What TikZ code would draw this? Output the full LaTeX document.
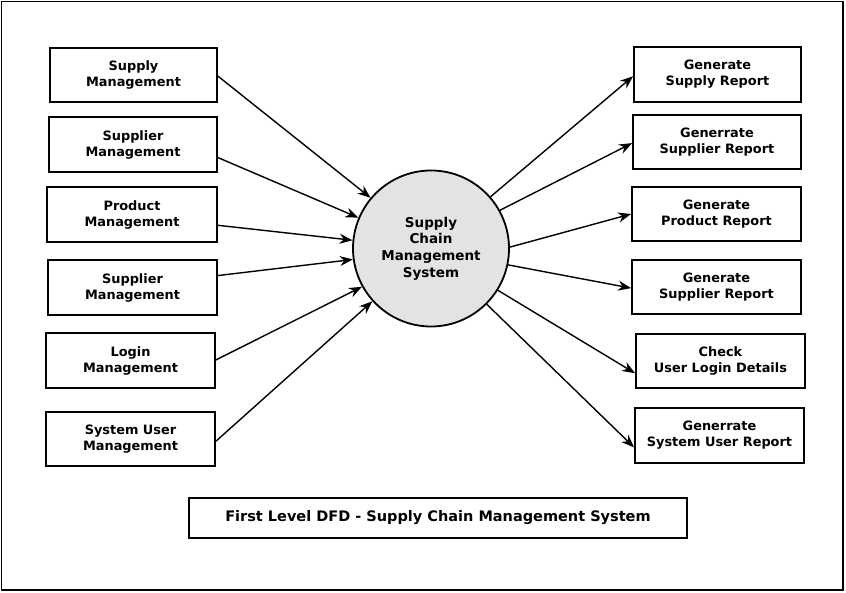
\documentclass[tikz,border=0pt]{standalone}
\usepackage{fontspec}
\setmainfont{DejaVu Sans}
\usetikzlibrary{arrows.meta,calc}
\begin{document}
\begin{tikzpicture}[x=1pt,y=-1pt,
  every node/.style={font=\bfseries\fontsize{12.9}{16}\selectfont, align=center, inner sep=0pt},
  box/.style={draw, line width=1.8pt},
  flow/.style={line width=1.4pt, -{Stealth[length=13pt,width=10pt]}}]
\useasboundingbox (0,0) rectangle (846,593);
\draw[line width=1.4pt] (1.5,1.5) rectangle (843,590);
% left boxes
\node[box, minimum width=167, minimum height=54] (l1) at (133.5,75) {Supply\\Management};
\node[box, minimum width=168, minimum height=55] (l2) at (133,144.5) {Supplier\\Management};
\node[box, minimum width=170, minimum height=55] (l3) at (132,214.5) {Product\\Management};
\node[box, minimum width=169, minimum height=55] (l4) at (132.5,287.5) {Supplier\\Management};
\node[box, minimum width=169, minimum height=55] (l5) at (130.5,360.5) {Login\\Management};
\node[box, minimum width=169, minimum height=54] (l6) at (130.5,439) {System User\\Management};
% right boxes
\node[box, minimum width=167, minimum height=55] (r1) at (717.5,74.5) {Generate\\Supply Report};
\node[box, minimum width=168, minimum height=54] (r2) at (717,142) {Generrate\\Supplier Report};
\node[box, minimum width=169, minimum height=54] (r3) at (716.5,214) {Generate\\Product Report};
\node[box, minimum width=169, minimum height=54] (r4) at (716.5,287) {Generate\\Supplier Report};
\node[box, minimum width=169, minimum height=54] (r5) at (720.5,361) {Check\\User Login Details};
\node[box, minimum width=169, minimum height=55] (r6) at (719.5,435.5) {Generrate\\System User Report};
% centre
\node[circle, draw, line width=1.8pt, fill=black!11, minimum size=156,
  font=\bfseries\fontsize{13.5}{16.7}\selectfont] (c) at (431,248.5) {Supply\\Chain\\Management\\System};
% title
\node[box, minimum width=498, minimum height=40,
  font=\bfseries\fontsize{14.5}{17}\selectfont] (t) at (438,518) {First Level DFD - Supply Chain Management System};
% inflows
\draw[flow] ($(l1.north east)!0.52!(l1.south east)$) -- (c.140);
\draw[flow] ($(l2.north east)!0.73!(l2.south east)$) -- (c.157);
\draw[flow] ($(l3.north east)!0.69!(l3.south east)$) -- (c.174);
\draw[flow] ($(l4.north east)!0.29!(l4.south east)$) -- (c.188.5);
\draw[flow] ($(l5.north east)!0.49!(l5.south east)$) -- (c.209);
\draw[flow] ($(l6.north east)!0.54!(l6.south east)$) -- (c.222.5);
% outflows
\draw[flow] (c.41) -- ($(r1.north west)!0.53!(r1.south west)$);
\draw[flow] (c.29) -- ($(r2.north west)!0.52!(r2.south west)$);
\draw[flow] (c.1) -- ($(r3.north west)!0.5!(r3.south west)$);
\draw[flow] (c.-12) -- ($(r4.north west)!0.52!(r4.south west)$);
\draw[flow] (c.-32) -- ($(r5.north west)!0.72!(r5.south west)$);
\draw[flow] (c.-45) -- ($(r6.north west)!0.71!(r6.south west)$);
\end{tikzpicture}
\end{document}
